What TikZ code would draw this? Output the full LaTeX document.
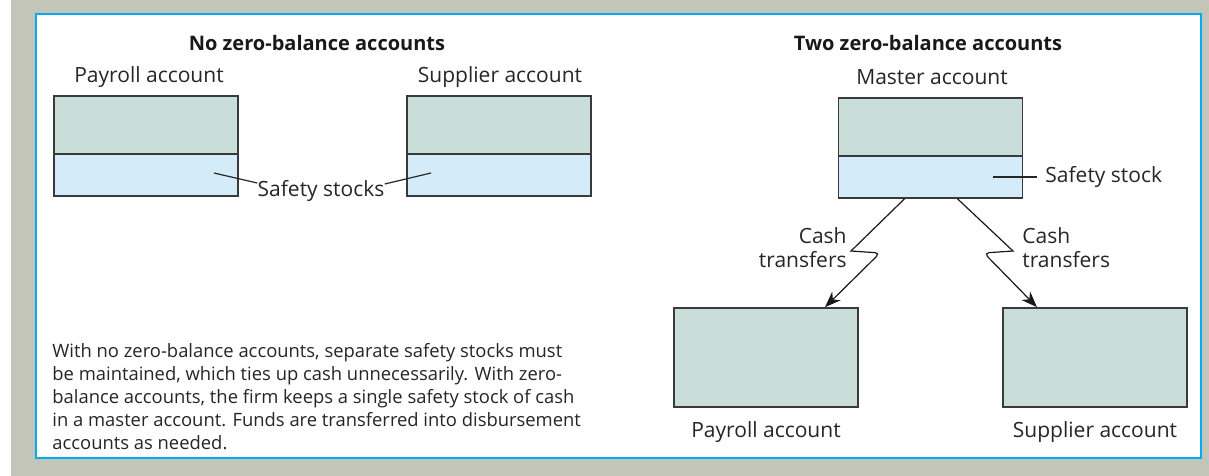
\documentclass[tikz,border=0pt]{standalone}
\usepackage{fontspec}
\setmainfont{Open Sans}
\usetikzlibrary{calc,arrows.meta}

\definecolor{bggray}{HTML}{C3C5B8}
\definecolor{panelcyan}{HTML}{00AEEF}
\definecolor{cashgreen}{HTML}{C9DDD9}
\definecolor{safeblue}{HTML}{D4ECF9}
\definecolor{inkgray}{HTML}{3A3A3A}

\tikzset{
  acctop/.style={draw=inkgray,line width=0.8pt,fill=cashgreen,minimum width=92pt,minimum height=29pt,inner sep=0pt},
  accsafe/.style={draw=inkgray,line width=0.8pt,fill=safeblue,minimum width=92pt,minimum height=21pt,inner sep=0pt},
  accbox/.style={draw=inkgray,line width=0.8pt,fill=cashgreen,minimum width=92pt,minimum height=49.5pt,inner sep=0pt},
  lbl/.style={font=\fontsize{10.5pt}{12pt}\selectfont,inner sep=0pt,text=black!85},
  ttl/.style={font=\bfseries\fontsize{10pt}{12pt}\selectfont,inner sep=0pt,text=black!90},
  leader/.style={draw=black!85,line width=0.6pt},
  cashline/.style={draw=black!90,line width=0.6pt,-{Stealth[length=8pt,width=6pt,inset=2.5pt]}}
}

\begin{document}
\begin{tikzpicture}[x=0.5pt,y=-0.5pt]
\useasboundingbox (0,0) rectangle (1209,476);
\fill[bggray] (11,0) rectangle (1209,476);
\draw[panelcyan,line width=1.3pt,fill=white] (36,14) rectangle (1201,458);

% no zero-balance accounts
\node[ttl] (ttlleft) at (317,43) {No zero-balance accounts};
\node[lbl] (paylbl) at (149,77) {Payroll account};
\node[lbl] (suplbl) at (500,77) {Supplier account};
\node[acctop] (paytop) at (146,125) {};
\node[accsafe] (paysafe) at (146,175) {};
\node[acctop] (suptop) at (499,125) {};
\node[accsafe] (supsafe) at (499,175) {};
\node[lbl] (stocks) at (321,191) {Safety stocks};
\draw[leader] ($(paysafe.center)+(68,-2)$) -- ([yshift=4pt]stocks.west);
\draw[leader] ([yshift=3.5pt]stocks.east) -- ($(supsafe.center)+(-68,-2)$);

\node[lbl,anchor=north west,align=left,font=\fontsize{9.2pt}{11.5pt}\selectfont] (note) at (52,343)
  {With no zero-balance accounts, separate safety stocks must\\
   be maintained, which ties up cash unnecessarily. With zero-\\
   balance accounts, the firm keeps a single safety stock of cash\\
   in a master account. Funds are transferred into disbursement\\
   accounts as needed.};

% two zero-balance accounts
\node[ttl] (ttlright) at (928,43) {Two zero-balance accounts};
\node[lbl] (mastlbl) at (932,77) {Master account};
\node[acctop] (masttop) at (930.5,127) {};
\node[accsafe] (mastsafe) at (930.5,177) {};
\node[lbl,anchor=west] (stock) at (1045,177) {Safety stock};
\draw[leader] ($(mastsafe.center)+(62,0)$) -- ([xshift=-4pt]stock.west);

\node[accbox] (payB) at (766,357.5) {};
\node[accbox] (supB) at (1095,357.5) {};
\node[lbl] (paylblB) at (766,432) {Payroll account};
\node[lbl] (suplblB) at (1095,432) {Supplier account};

\node[lbl,anchor=east,align=right] (cashL) at (847,248) {Cash\\transfers};
\node[lbl,anchor=west,align=left] (cashR) at (1022,248) {Cash\\transfers};

\draw[cashline] ($(mastsafe.south)+(-26,0)$) -- (851,251) [rounded corners=2.5pt] -- (880,253) -- ($(payB.north)+(59,0)$);
\draw[cashline] ($(mastsafe.south)+(27,0)$) -- (1013,251) [rounded corners=2.5pt] -- (984,253) -- ($(supB.north)+(-58,0)$);
\end{tikzpicture}
\end{document}
